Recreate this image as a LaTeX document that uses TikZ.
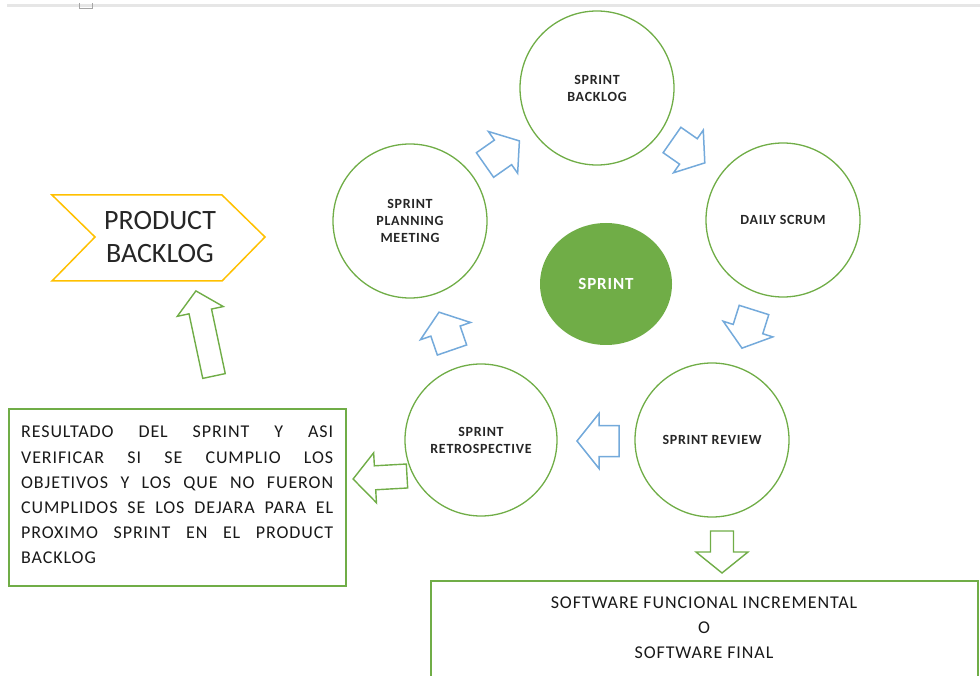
\documentclass[tikz,border=0pt]{standalone}
\usepackage{fontspec}
\setmainfont{Carlito}
\usetikzlibrary{shapes.geometric}
\definecolor{cgreen}{HTML}{70AD47}
\definecolor{cblue}{HTML}{5B9BD5}
\definecolor{cyellow}{HTML}{FFC000}
\definecolor{cgray}{HTML}{E6E6E6}
\newfontfamily\spaced[LetterSpace=5]{Carlito}
\tikzset{
  pics/barrow/.style n args={4}{code={
    \draw[pic actions] (0,-#4/2) -- (#1-#2,-#4/2) -- (#1-#2,-#3/2) -- (#1,0)
      -- (#1-#2,#3/2) -- (#1-#2,#4/2) -- (0,#4/2) -- cycle;}},
  bluearr/.style={draw=cblue!85, fill=white, line width=1.5pt, line join=miter},
  greenarr/.style={draw=cgreen, fill=white, line width=1.4pt, line join=miter},
  circ/.style={circle, draw=cgreen, line width=1.3pt, minimum size=154pt, inner sep=0pt,
    align=center, font=\spaced\fontsize{14}{17}\selectfont\bfseries, text=black!85},
  gbox/.style={draw=cgreen, line width=1.3pt},
  bodytext/.style={font=\spaced\fontsize{18}{25.2}\selectfont, text=black!90},
}
\begin{document}
\begin{tikzpicture}[x=1pt,y=-1pt]
\useasboundingbox (0,0) rectangle (980,676);
\clip (0,0) rectangle (980,676);
% top rule
\draw[cgray, line width=3pt] (7,6) -- (980,6);
\draw[gray!70, line width=0.8pt] (79,3) -- (79,8) -- (92,8) -- (92,3);

% circles
\node[circ] (sb) at (597,88) {SPRINT\\BACKLOG};
\node[circ] (ds) at (783,220) {DAILY SCRUM};
\node[circ] (spm) at (410,221) {SPRINT\\PLANNING\\MEETING};
\node[circ] (sr) at (712,440) {SPRINT REVIEW};
\node[circ, minimum size=152pt] (sre) at (481,440) {SPRINT\\RETROSPECTIVE};
\node[ellipse, fill=cgreen, minimum width=132pt, minimum height=122pt, inner sep=0pt,
  text=white, font=\spaced\fontsize{17}{19}\selectfont\bfseries] (sp) at (606,284) {SPRINT};

% product backlog chevron
\draw[cyellow, line width=1.5pt, line join=miter] (52,195) -- (222,195) -- (265,237) -- (222,281) -- (52,281) -- (95,237) -- cycle;
\node[align=center, font=\fontsize{28}{33}\selectfont, text=black!85] (pb) at (160,237) {PRODUCT\\BACKLOG};

% result text box
\draw[gbox] (9,409) rectangle (346,586);
\node[anchor=north west, inner sep=0pt, text width=312pt, align=justify, bodytext] (res) at (21,426)
  {RESULTADO DEL SPRINT Y ASI\linebreak VERIFICAR SI SE CUMPLIO LOS\linebreak OBJETIVOS Y LOS QUE NO FUERON\linebreak CUMPLIDOS SE LOS DEJARA PARA EL\linebreak PROXIMO SPRINT EN EL PRODUCT\linebreak BACKLOG};

% software box (open at bottom)
\draw[gbox] (431,690) -- (431,581) -- (978,581) -- (978,690);
\node[align=center, bodytext] (sw) at (704,628)
  {SOFTWARE FUNCIONAL INCREMENTAL\\O\\SOFTWARE FINAL};

% blue cycle arrows
\pic[bluearr, rotate=35] at (485,165) {barrow={42}{20}{51}{30}};
\pic[bluearr, rotate=-34.9] at (672,140) {barrow={40}{20}{52}{31}};
\pic[bluearr, rotate=-107.5] at (754,310) {barrow={40}{20}{52}{31}};
\pic[bluearr, rotate=180] at (619,441) {barrow={42}{22}{55}{31}};
\pic[bluearr, rotate=109] at (452,350) {barrow={40}{20}{53}{31}};

% green arrows
\pic[greenarr, rotate=102] at (214,376) {barrow={87}{21}{47}{23}};
\pic[greenarr, rotate=183.2] at (407,476) {barrow={54}{22}{50}{24}};
\pic[greenarr, rotate=-90] at (722,531) {barrow={42}{21}{52}{23}};
\end{tikzpicture}
\end{document}
